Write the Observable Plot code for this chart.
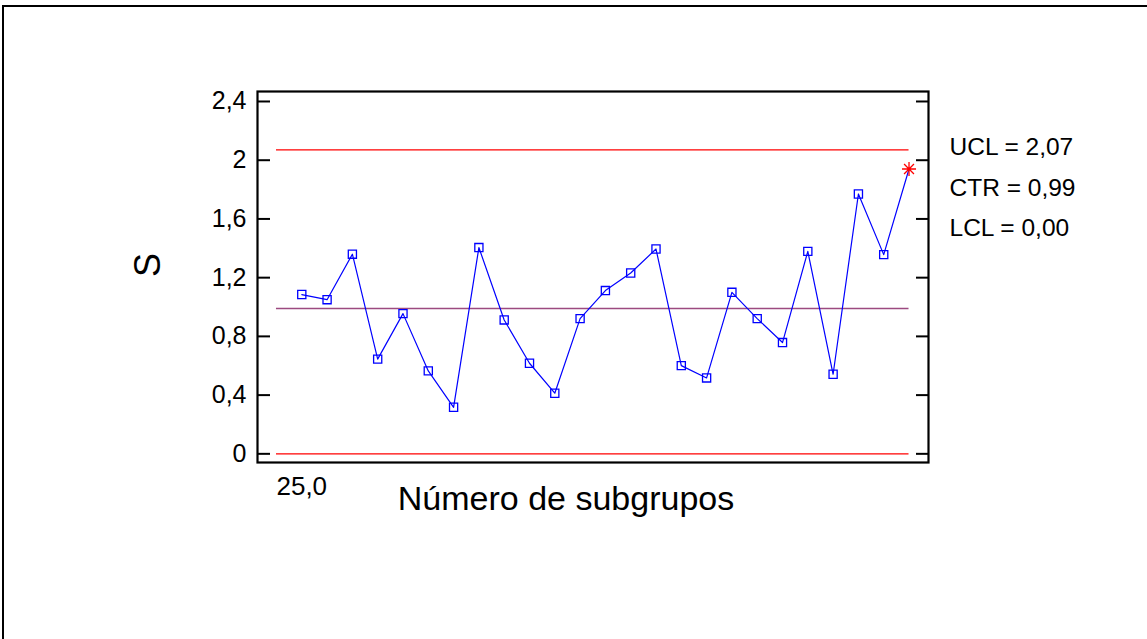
<!DOCTYPE html>
<html><head><meta charset="utf-8">
<script src="https://cdn.jsdelivr.net/npm/d3@7"></script>
<script src="https://cdn.jsdelivr.net/npm/@observablehq/plot@0.6"></script>
<style>
html,body{margin:0;padding:0;background:#fff;}
#wrap{position:relative;width:1147px;height:639px;overflow:hidden;font-family:"Liberation Sans",Arial,sans-serif;}
#border{position:absolute;left:2px;top:5px;width:1200px;height:700px;border-left:2px solid #000;border-top:2px solid #000;}
#chart{position:absolute;left:0;top:0;}
</style></head><body>
<div id="wrap"><div id="border"></div><div id="chart"></div></div>
<script>
const subgroups = [1,2,3,4,5,6,7,8,9,10,11,12,13,14,15,16,17,18,19,20,21,22,23,24,25];
const sValues = [1.085,1.05,1.36,0.645,0.955,0.565,0.317,1.405,0.912,0.617,0.413,0.921,1.112,1.232,1.395,0.601,0.517,1.10,0.921,0.758,1.379,0.542,1.770,1.357,1.940];
const outOfControl = [25];
const limitNames = ["UCL", "CTR", "LCL"];
const limitValues = [2.07, 0.99, 0.00];
const limitColors = ["#ff0000", "#9c4a80", "#ff0000"];
const yTicks = [0, 0.4, 0.8, 1.2, 1.6, 2, 2.4];
const yTickLabels = ["0", "0,4", "0,8", "1,2", "1,6", "2", "2,4"];
const sampleSizeLabel = ["25,0"];
const xTitle = "Número de subgrupos";
const yTitle = "S";

const points = subgroups.map((g, i) => ({g, s: sValues[i], flag: outOfControl.includes(g)}));
const limits = limitNames.map((n, i) => ({name: n, value: limitValues[i], color: limitColors[i]}));
const comma = v => v.replace(".", ",");
const xStart = d3.min(subgroups) - 1, xEnd = d3.max(subgroups);

// eight-armed asterisk symbol (+ and x)
const star8 = {
  draw(ctx, size) {
    const r = Math.sqrt(size / Math.PI);
    for (let k = 0; k < 4; k++) {
      const a = k * Math.PI / 4, c = Math.cos(a) * r, s = Math.sin(a) * r;
      ctx.moveTo(c, s); ctx.lineTo(-c, -s);
    }
  }
};

const plot = Plot.plot({
  width: 1147, height: 639,
  marginLeft: 257, marginTop: 91, marginRight: 219, marginBottom: 177,
  style: {fontFamily: "'Liberation Sans', Arial, sans-serif", background: "transparent", color: "#000"},
  x: {domain: [-0.75, 25.77], axis: null},
  y: {domain: [-0.059, 2.468], axis: null},
  marks: [
    Plot.ruleY(limits, {y: "value", x1: xStart, x2: xEnd, stroke: "color", strokeWidth: 1.3}),
    Plot.line(points, {x: "g", y: "s", stroke: "#0000ff", strokeWidth: 1.2}),
    Plot.dot(points.filter(d => !d.flag), {x: "g", y: "s", symbol: "square", r: 4.6, stroke: "#0000ff", fill: "none", strokeWidth: 1.3}),
    Plot.dot(points.filter(d => d.flag), {x: "g", y: "s", symbol: star8, r: 7, stroke: "#ff0000", strokeWidth: 1.3}),
    Plot.frame({stroke: "#000", strokeWidth: 2.2}),
    Plot.axisY({ticks: yTicks, tickSize: 13, dx: 13, fill: "none", label: null, strokeWidth: 2}),
    Plot.axisY({anchor: "right", ticks: yTicks, tickSize: 13, dx: -13, fill: "none", label: null, strokeWidth: 2}),
    Plot.axisY({ticks: yTicks, tickSize: 0, tickPadding: 11, tickFormat: (d) => yTickLabels[yTicks.indexOf(d)], fontSize: 25, label: null}),
    Plot.text([yTitle], {frameAnchor: "left", rotate: -90, dx: -109, fontSize: 36, lineAnchor: "middle"}),
    Plot.text(sampleSizeLabel, {x: subgroups[0], frameAnchor: "bottom", dy: 24, fontSize: 26, lineAnchor: "middle", text: d => d}),
    Plot.text([xTitle], {frameAnchor: "bottom", dx: -27, dy: 37, fontSize: 34, lineAnchor: "middle"}),
    ...limits.map((l, i) => Plot.text([l], {
      frameAnchor: "top-right", textAnchor: "start", lineAnchor: "middle",
      dx: 21, dy: 56 + i * 40.5, fontSize: 24.5,
      text: d => `${d.name} = ${comma(d3.format(".2f")(d.value))}`
    }))
  ]
});
document.getElementById("chart").appendChild(plot);
</script>
</body></html>
